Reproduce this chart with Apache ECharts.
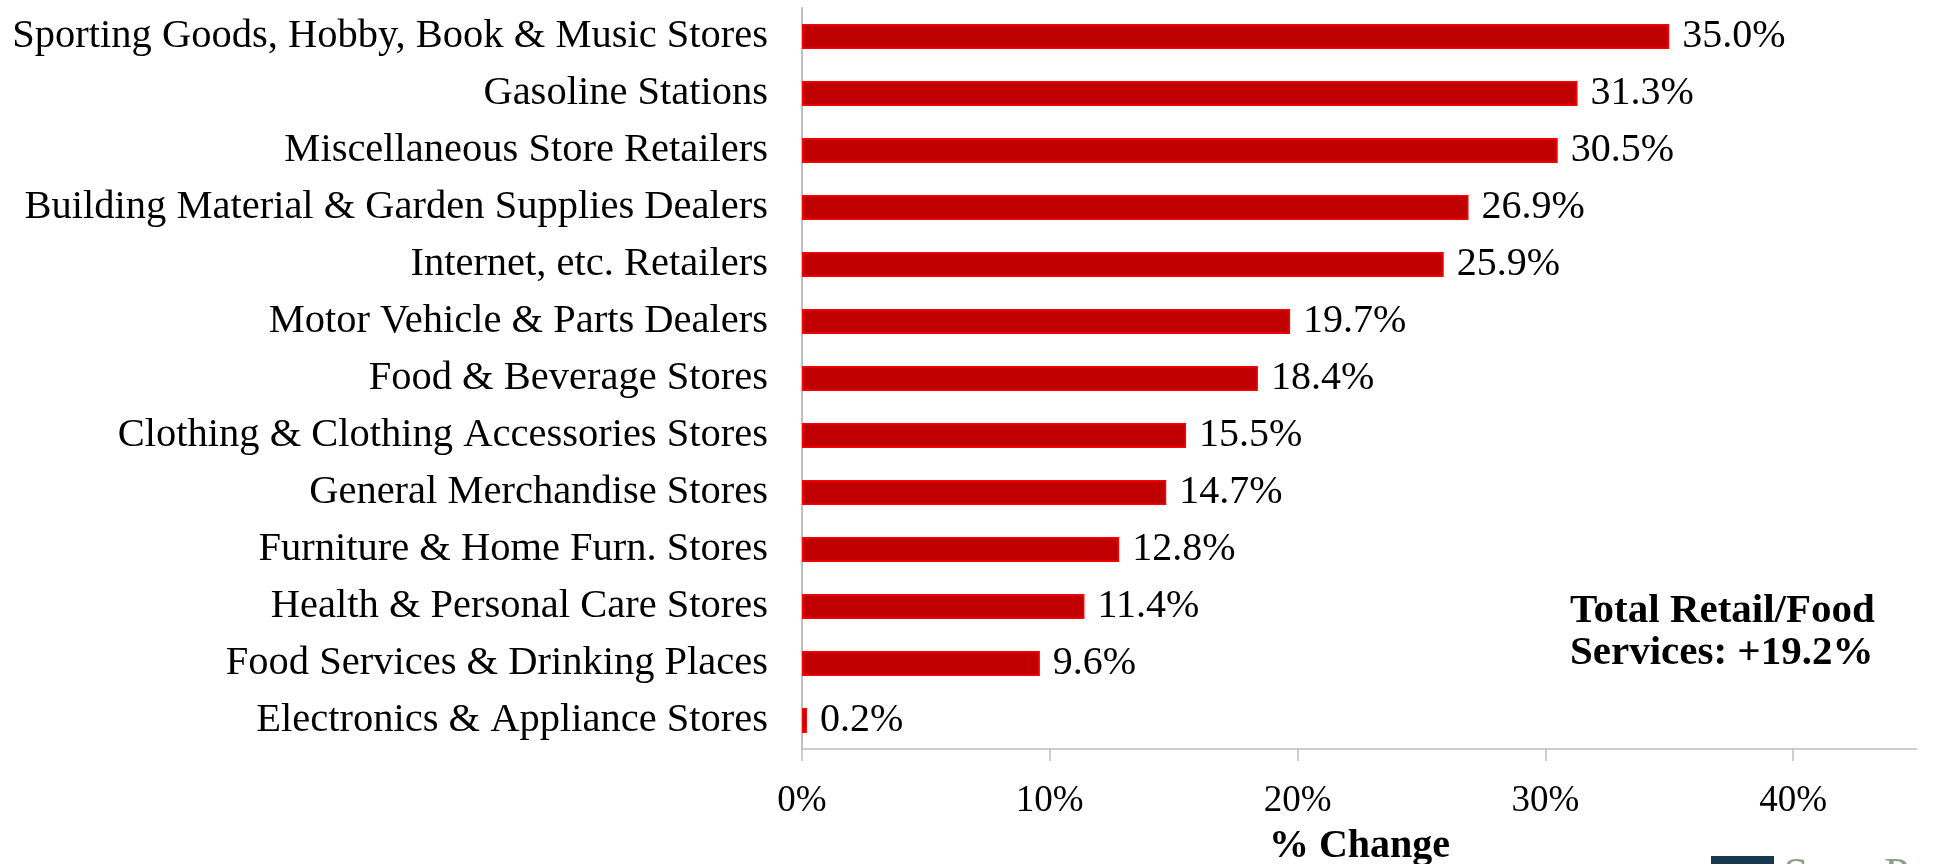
<!DOCTYPE html>
<html>
<head>
<meta charset="utf-8">
<title>Retail Sales % Change by Category</title>
<script src="https://cdn.jsdelivr.net/npm/echarts@6/dist/echarts.min.js"></script>
<style>
  html, body { margin: 0; padding: 0; background: #ffffff; }
  #chart { width: 1933px; height: 864px; }
</style>
</head>
<body>
<div id="chart"></div>
<script>
// Retail categories, listed top to bottom
const categories = [
  'Sporting Goods, Hobby, Book & Music Stores',
  'Gasoline Stations',
  'Miscellaneous Store Retailers',
  'Building Material & Garden Supplies Dealers',
  'Internet, etc. Retailers',
  'Motor Vehicle & Parts Dealers',
  'Food & Beverage Stores',
  'Clothing & Clothing Accessories Stores',
  'General Merchandise Stores',
  'Furniture & Home Furn. Stores',
  'Health & Personal Care Stores',
  'Food Services & Drinking Places',
  'Electronics & Appliance Stores'
];

// Percent change for each category
const pctChange = [35.0, 31.3, 30.5, 26.9, 25.9, 19.7, 18.4, 15.5, 14.7, 12.8, 11.4, 9.6, 0.2];

// Axis ticks shown along the value axis
const tickValues = [0, 10, 20, 30, 40];

const totalLabel = 'Total Retail/Food\nServices: +19.2%';
const axisTitle = '% Change';
const brandName = 'Sage Policy Group';

const FONT = '"Liberation Serif", "DejaVu Serif", serif';

const chart = echarts.init(document.getElementById('chart'), null, { renderer: 'canvas' });

chart.setOption({
  animation: false,
  backgroundColor: '#ffffff',
  grid: { left: 802, right: 16, top: 8, bottom: 115, containLabel: false, outerBoundsMode: 'none' },
  xAxis: {
    type: 'value',
    min: 0,
    max: 45,
    interval: 10,
    name: axisTitle,
    nameLocation: 'middle',
    nameGap: 78,
    nameTextStyle: { fontFamily: FONT, fontWeight: 'bold', fontSize: 40, color: '#000000' },
    axisLine: { show: true, lineStyle: { color: '#bfbfbf', width: 1.5 } },
    axisTick: { show: true, length: 12, customValues: tickValues, lineStyle: { color: '#bfbfbf', width: 1.5 } },
    splitLine: { show: false },
    axisLabel: {
      customValues: tickValues,
      margin: 34,
      fontFamily: FONT,
      fontSize: 37,
      color: '#000000',
      formatter: v => v + '%'
    }
  },
  yAxis: {
    type: 'category',
    data: categories,
    inverse: true,
    axisLine: { show: true, lineStyle: { color: '#bfbfbf', width: 2 } },
    axisTick: { show: false },
    axisLabel: { margin: 34, fontFamily: FONT, fontSize: 40.5, color: '#000000' }
  },
  series: [{
    type: 'bar',
    data: pctChange,
    barCategoryGap: '56%',
    itemStyle: { color: '#c00000', borderColor: '#ff0000', borderWidth: 1.5 },
    label: {
      show: true,
      position: 'right',
      distance: 13,
      fontFamily: FONT,
      fontSize: 40,
      color: '#000000',
      formatter: p => p.value.toFixed(1) + '%'
    }
  }],
  graphic: [
    {
      type: 'text',
      left: 1570,
      top: 590,
      style: {
        text: totalLabel,
        align: 'center',
        verticalAlign: 'top',
        fontFamily: FONT,
        fontWeight: 'bold',
        fontSize: 41,
        lineHeight: 42,
        fill: '#000000'
      }
    },
    {
      type: 'rect',
      left: 1711,
      top: 856,
      shape: { width: 63, height: 10 },
      style: { fill: '#17384f' }
    },
    {
      type: 'text',
      left: 1783,
      top: 855,
      style: {
        text: brandName,
        fontFamily: FONT,
        fontSize: 46,
        fill: '#8e9e8c'
      }
    }
  ]
});
</script>
</body>
</html>
